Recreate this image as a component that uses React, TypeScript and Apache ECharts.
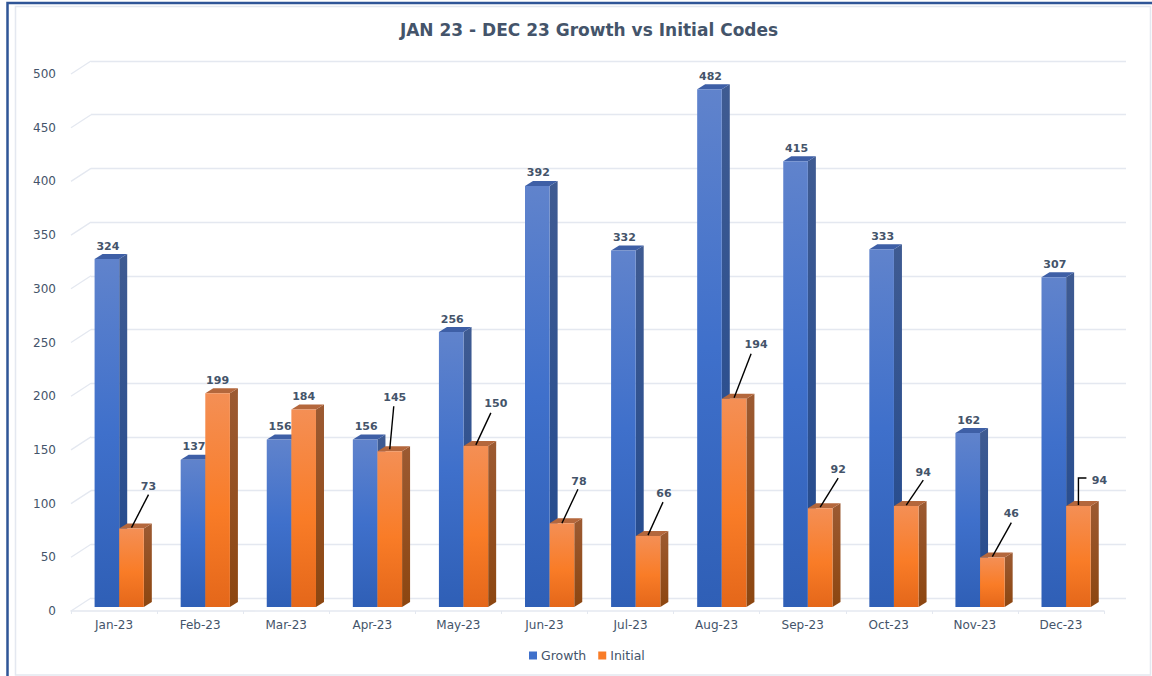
import React, { useEffect, useRef } from "react";
import * as echarts from "echarts";

const categories = ["Jan-23", "Feb-23", "Mar-23", "Apr-23", "May-23", "Jun-23", "Jul-23", "Aug-23", "Sep-23", "Oct-23", "Nov-23", "Dec-23"];
const growth = [324, 137, 156, 156, 256, 392, 332, 482, 415, 333, 162, 307];
const initial = [73, 199, 184, 145, 150, 78, 66, 194, 92, 94, 46, 94];
const yTicks = [0, 50, 100, 150, 200, 250, 300, 350, 400, 450, 500];

// Callout layout for the Initial labels, relative to the top centre of each bar:
// label centre [dx, dy], and leader-line way-points (empty when there is no leader).
const initialLabelOffsets = [[17, -42], [0, -13], [0, -13], [5, -54], [20, -42], [17, -42], [16, -43], [22, -54], [18, -39], [17, -34], [19, -44], [21, -26]];
const initialLeaders: number[][][] = [
  [[0, -1], [17, -34]], [], [], [[0, -2], [4, -45]], [[0, -1], [15, -33]], [[0, 0], [16, -34]],
  [[0, -1], [15, -34]], [[0, -1], [17, -45]], [[0, -1], [18, -30]], [[0, -1], [17, -26]], [[0, -1], [19, -35]],
  [[0, -1], [0, -28], [8, -28]],
];

const TEXT = "#44546a";
const FONT = '"DejaVu Sans", sans-serif';
const LINE = "#e4e8f0";
const PLANE_SHIFT = -4;
const BAR_RATIO = 0.286;
const CENTER_SHIFT = 0.06;
const DEPTH_X = 8;
const DEPTH_Y = 5;

const grad = (stops: [number, string][]) =>
  new echarts.graphic.LinearGradient(0, 0, 0, 1, stops.map(([offset, color]) => ({ offset, color })));

const blue = {
  front: () => grad([[0, "#6083cc"], [0.5, "#3f70cb"], [1, "#2f5fb6"]]),
  side: () => grad([[0, "#3f5b92"], [1, "#21498e"]]),
  top: "#3e5fa6",
};
const orange = {
  front: () => grad([[0, "#f48f55"], [0.55, "#f97c27"], [1, "#e4671a"]]),
  side: () => grad([[0, "#9c5a32"], [1, "#8c4610"]]),
  top: "#b4673c",
};

function bar3d(api: any, palette: any, side: number) {
  const idx = api.value(0);
  const [cx, yTop0] = api.coord([idx, api.value(1)]);
  const [, yBase0] = api.coord([idx, 0]);
  const band = api.size([1, 0])[0];
  const w = band * BAR_RATIO;
  const mid = cx + band * CENTER_SHIFT;
  const x0 = side < 0 ? mid - w : mid;
  const x1 = x0 + w;
  const yTop = yTop0 + PLANE_SHIFT;
  const yBase = yBase0 + PLANE_SHIFT;
  const children: any[] = [
    { type: "polygon", shape: { points: [[x1, yTop], [x1 + DEPTH_X, yTop - DEPTH_Y], [x1 + DEPTH_X, yBase - DEPTH_Y], [x1, yBase]] }, style: { fill: palette.side() } },
    { type: "polygon", shape: { points: [[x0, yTop], [x0 + DEPTH_X, yTop - DEPTH_Y], [x1 + DEPTH_X, yTop - DEPTH_Y], [x1, yTop]] }, style: { fill: palette.top } },
    { type: "rect", shape: { x: x0, y: yTop, width: w, height: yBase - yTop }, style: { fill: palette.front() } },
  ];
  return { children, topCx: (x0 + x1) / 2, yTop };
}

const label = (text: string, x: number, y: number) => ({
  type: "text",
  style: { text, x, y, align: "center", verticalAlign: "middle", fill: TEXT, font: `bold 11px ${FONT}` },
});

function renderGrowth(_: any, api: any) {
  const { children, topCx, yTop } = bar3d(api, blue, -1);
  children.push(label(String(api.value(1)), topCx + 1, yTop - 13));
  return { type: "group", children };
}

function renderInitial(params: any, api: any) {
  const { children, topCx, yTop } = bar3d(api, orange, 1);
  const i = params.dataIndex;
  const pts = initialLeaders[i];
  if (pts.length) {
    children.push({
      type: "polyline",
      shape: { points: pts.map(([dx, dy]) => [topCx + dx, yTop + dy]) },
      style: { stroke: "#000", lineWidth: 1.4, fill: "none" },
    });
  }
  const [dx, dy] = initialLabelOffsets[i];
  children.push(label(String(api.value(1)), topCx + dx, yTop + dy));
  return { type: "group", children };
}

function renderDiagonal(params: any, api: any) {
  const [, y] = api.coord([0, api.value(0)]);
  const left = params.coordSys.x;
  return { type: "line", shape: { x1: left, y1: y, x2: left + 20, y2: y - 13 }, style: { stroke: LINE, lineWidth: 1.3 } };
}

export default function App() {
  const ref = useRef<HTMLDivElement>(null);
  useEffect(() => {
    document.body.style.margin = "0";
    const chart = echarts.init(ref.current!, null, { renderer: "svg" });
    chart.setOption({
      animation: false,
      backgroundColor: "#fff",
      textStyle: { fontFamily: FONT },
      title: {
        text: "JAN 23 - DEC 23 Growth vs Initial Codes",
        left: 584, top: 16, textAlign: "center",
        textStyle: { color: TEXT, fontSize: 17, fontWeight: "bold", fontFamily: FONT },
      },
      legend: {
        data: ["Growth", "Initial"],
        left: 524, top: 644,
        icon: "rect", itemWidth: 8, itemHeight: 8, itemGap: 12,
        textStyle: { color: TEXT, fontSize: 12.5, fontFamily: FONT, padding: [0, 0, 0, -1] },
      },
      grid: [
        { left: 71, right: 48, top: 74, bottom: 65 },
        { left: 91, right: 26, top: 61, bottom: 78 },
      ],
      xAxis: [
        {
          type: "category", data: categories, gridIndex: 0,
          axisLine: { lineStyle: { color: LINE, width: 1.5 } },
          axisTick: { show: true, length: 3, lineStyle: { color: LINE } },
          axisLabel: { color: TEXT, fontSize: 12, margin: 8, fontFamily: FONT },
          splitLine: { show: false },
        },
        { type: "category", data: categories, gridIndex: 1, show: false },
      ],
      yAxis: [
        {
          type: "value", gridIndex: 0, min: 0, max: 500, interval: 50,
          axisLine: { show: false }, axisTick: { show: false },
          axisLabel: { color: TEXT, fontSize: 12, margin: 15, fontFamily: FONT },
          splitLine: { show: false },
        },
        {
          type: "value", gridIndex: 1, min: 0, max: 500, interval: 50,
          axisLine: { show: false }, axisTick: { show: false }, axisLabel: { show: false },
          splitLine: { show: true, lineStyle: { color: LINE, width: 1.3 } },
        },
      ],
      series: [
        {
          type: "custom", name: "diagonals", xAxisIndex: 0, yAxisIndex: 0, silent: true, z: 1,
          data: yTicks.map((t) => [t]), encode: { y: 0 }, renderItem: renderDiagonal, clip: false,
        },
        {
          type: "custom", name: "Growth", xAxisIndex: 0, yAxisIndex: 0, z: 3, clip: false,
          itemStyle: { color: "#3f70cb" },
          data: growth.map((v, i) => [i, v]), encode: { x: 0, y: 1 }, renderItem: renderGrowth,
        },
        {
          type: "custom", name: "Initial", xAxisIndex: 0, yAxisIndex: 0, z: 4, clip: false,
          itemStyle: { color: "#f97c27" },
          data: initial.map((v, i) => [i, v]), encode: { x: 0, y: 1 }, renderItem: renderInitial,
        },
      ],
      graphic: [
        { type: "rect", silent: true, z: 0, shape: { x: 15.5, y: 6.5, width: 1135, height: 668.5 }, style: { fill: "none", stroke: "#e4e8f0", lineWidth: 1.5 } },
        { type: "polyline", silent: true, z: 10, shape: { points: [[7.5, 676], [7.5, 3], [1152, 3]] }, style: { fill: "none", stroke: "#2f5597", lineWidth: 2.5 } },
      ],
    });
    return () => chart.dispose();
  }, []);
  return <div ref={ref} style={{ position: "absolute", left: 0, top: 0, width: 1152, height: 676 }} />;
}
